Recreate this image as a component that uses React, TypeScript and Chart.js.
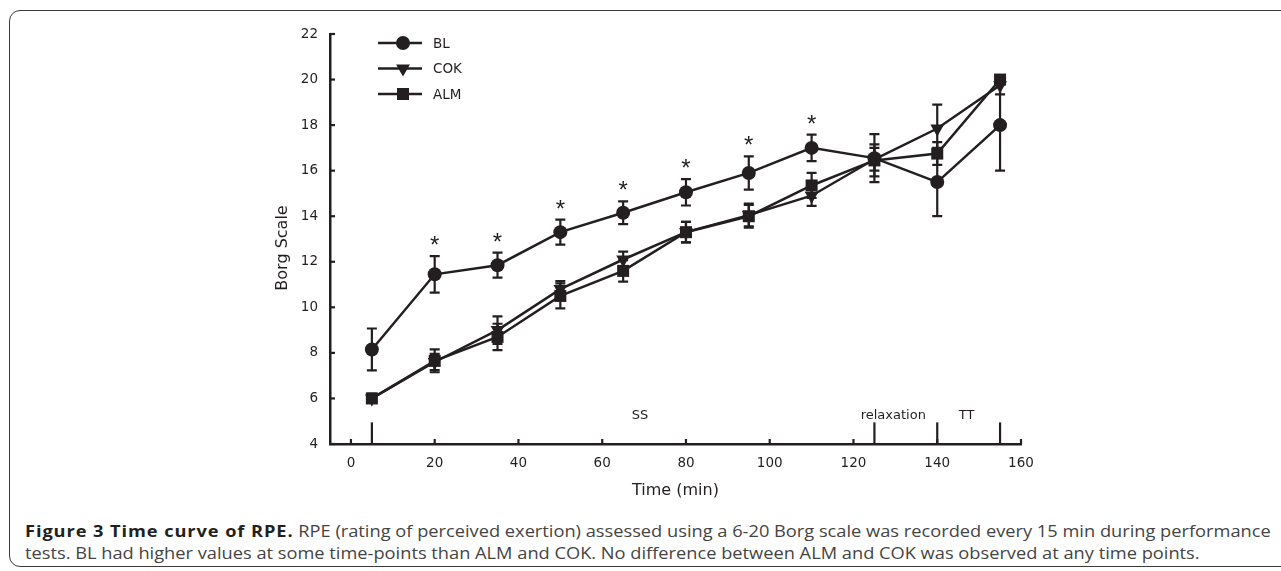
import React, { useEffect, useRef } from 'react';
import { Chart, registerables } from 'chart.js';

Chart.register(...registerables);

// ---- data ----
const times = [5, 20, 35, 50, 65, 80, 95, 110, 125, 140, 155];
const blMean = [8.15, 11.45, 11.85, 13.3, 14.15, 15.05, 15.9, 17.0, 16.55, 15.5, 18.0];
const blSd = [0.92, 0.8, 0.55, 0.55, 0.5, 0.58, 0.73, 0.58, 1.05, 1.5, 2.0];
const cokMean = [6.0, 7.6, 9.0, 10.8, 12.1, 13.3, 14.05, 14.9, 16.5, 17.85, 19.75];
const cokSd = [0.2, 0.36, 0.6, 0.35, 0.35, 0.45, 0.5, 0.45, 0.5, 1.05, 0.4];
const almMean = [6.0, 7.65, 8.7, 10.5, 11.6, 13.3, 14.0, 15.35, 16.45, 16.75, 20.0];
const almSd = [0.2, 0.5, 0.58, 0.55, 0.47, 0.45, 0.5, 0.55, 0.7, 0.5, 0.2];
const seriesNames = ['BL', 'COK', 'ALM'];
const sigTimes = [20, 35, 50, 65, 80, 95, 110];
const xTicks = [0, 20, 40, 60, 80, 100, 120, 140, 160];
const yTicks = [4, 6, 8, 10, 12, 14, 16, 18, 20, 22];
const phaseLines = [5, 125, 140, 155];
const phaseLabels = ['SS', 'relaxation', 'TT'];
const phaseLabelX = [69, 129.5, 147];

const INK = '#231f20';
const FONT = '"DejaVu Sans", "Liberation Sans", Arial, sans-serif';

const series = [
  { name: seriesNames[0], mean: blMean, sd: blSd, style: 'circle' },
  { name: seriesNames[1], mean: cokMean, sd: cokSd, style: 'tri' },
  { name: seriesNames[2], mean: almMean, sd: almSd, style: 'rect' },
];

function marker(ctx: CanvasRenderingContext2D, style: string, x: number, y: number) {
  ctx.beginPath();
  if (style === 'circle') {
    ctx.arc(x, y, 7, 0, Math.PI * 2);
  } else if (style === 'tri') {
    const r = 8;
    ctx.moveTo(x, y + r);
    ctx.lineTo(x - r * 0.866, y - r * 0.5);
    ctx.lineTo(x + r * 0.866, y - r * 0.5);
    ctx.closePath();
  } else {
    const s = 6;
    ctx.rect(x - s, y - s, 2 * s, 2 * s);
  }
  ctx.fill();
}

const overlay = {
  id: 'overlay',
  beforeDatasetsDraw(chart: any) {
    const { ctx, scales } = chart;
    const x = scales.x, y = scales.y;
    ctx.save();
    ctx.strokeStyle = INK;
    ctx.lineWidth = 2.2;
    series.forEach((s) => {
      s.mean.forEach((m, i) => {
        const px = x.getPixelForValue(times[i]);
        const top = y.getPixelForValue(m + s.sd[i]);
        const bot = y.getPixelForValue(m - s.sd[i]);
        ctx.beginPath();
        ctx.moveTo(px, top);
        ctx.lineTo(px, bot);
        ctx.moveTo(px - 5, top);
        ctx.lineTo(px + 5, top);
        ctx.moveTo(px - 5, bot);
        ctx.lineTo(px + 5, bot);
        ctx.stroke();
      });
    });
    ctx.restore();
  },
  afterDraw(chart: any) {
    const { ctx, scales, chartArea } = chart;
    const x = scales.x, y = scales.y;
    ctx.save();
    ctx.strokeStyle = INK;
    ctx.fillStyle = INK;
    ctx.lineWidth = 2.2;
    // inward tick marks
    xTicks.forEach((t) => {
      const px = x.getPixelForValue(t);
      ctx.beginPath();
      ctx.moveTo(px, chartArea.bottom);
      ctx.lineTo(px, chartArea.bottom - 5);
      ctx.stroke();
    });
    yTicks.forEach((t) => {
      const py = y.getPixelForValue(t);
      ctx.beginPath();
      ctx.moveTo(chartArea.left, py);
      ctx.lineTo(chartArea.left + 5, py);
      ctx.stroke();
    });
    // phase marker lines
    phaseLines.forEach((t) => {
      const px = x.getPixelForValue(t);
      ctx.beginPath();
      ctx.moveTo(px, y.getPixelForValue(4));
      ctx.lineTo(px, y.getPixelForValue(4.95));
      ctx.stroke();
    });
    ctx.font = '13px ' + FONT;
    ctx.textAlign = 'center';
    ctx.textBaseline = 'middle';
    phaseLabels.forEach((lab, i) => {
      ctx.fillText(lab, x.getPixelForValue(phaseLabelX[i]), y.getPixelForValue(5.25));
    });
    // significance asterisks
    ctx.font = '24px "Liberation Sans", Arial, sans-serif';
    ctx.textBaseline = 'alphabetic';
    sigTimes.forEach((t) => {
      const i = times.indexOf(t);
      const topPx = y.getPixelForValue(blMean[i] + blSd[i]);
      const cy = topPx - 17;
      ctx.fillText('*', x.getPixelForValue(t), cy + 24 * 0.58);
    });
    // legend
    ctx.font = '13.5px ' + FONT;
    ctx.textAlign = 'left';
    ctx.textBaseline = 'middle';
    series.forEach((s, i) => {
      const ly = chartArea.top + 9 + i * 25.5;
      const lx0 = chartArea.left + 48;
      ctx.lineWidth = 2.5;
      ctx.beginPath();
      ctx.moveTo(lx0, ly);
      ctx.lineTo(lx0 + 44, ly);
      ctx.stroke();
      marker(ctx, s.style, lx0 + 25, ly);
      ctx.fillText(s.name, lx0 + 55, ly + 1);
    });
    // y title
    ctx.font = '16px ' + FONT;
    ctx.textAlign = 'center';
    ctx.translate(283, (chartArea.top + chartArea.bottom) / 2 + 9);
    ctx.rotate(-Math.PI / 2);
    ctx.fillText('Borg Scale', 0, 0);
    ctx.restore();
  },
};

export default function App() {
  const ref = useRef<HTMLCanvasElement>(null);
  useEffect(() => {
    const mk = (s: typeof series[number]) => s.mean.map((v, i) => ({ x: times[i], y: v }));
    const chart = new Chart(ref.current!, {
      type: 'line',
      data: {
        datasets: series.map((s) => ({
          label: s.name,
          data: mk(s),
          borderColor: INK,
          backgroundColor: INK,
          borderWidth: 2.5,
          pointStyle: s.style === 'circle' ? 'circle' : s.style === 'tri' ? 'triangle' : 'rect',
          pointRotation: s.style === 'tri' ? 180 : 0,
          pointRadius: s.style === 'circle' ? 7 : s.style === 'tri' ? 8 : 8.5,
          pointBorderWidth: 0,
          pointBackgroundColor: INK,
          tension: 0,
          clip: false as any,
        })),
      },
      options: {
        animation: false,
        responsive: false,
        devicePixelRatio: 1,
        events: [],
        layout: { padding: { left: 270, top: 34, right: 260, bottom: 0 } },
        plugins: { legend: { display: false }, tooltip: { enabled: false } },
        scales: {
          x: {
            type: 'linear',
            min: -5,
            max: 160,
            afterFit: (sc: any) => { sc.height = 56; },
            grid: { display: false, drawTicks: false },
            border: { display: true, color: INK, width: 2.5 },
            ticks: {
              stepSize: 20,
              includeBounds: false,
              padding: 11,
              color: INK,
              font: { family: FONT, size: 13.5 },
              maxRotation: 0,
            },
            title: {
              display: true,
              text: 'Time (min)',
              color: INK,
              font: { family: FONT, size: 16 },
              padding: { top: 0, bottom: 0 },
            },
          },
          y: {
            type: 'linear',
            min: 4,
            max: 22,
            afterFit: (sc: any) => { sc.width = 60; },
            grid: { display: false, drawTicks: false },
            border: { display: true, color: INK, width: 2.5 },
            ticks: {
              stepSize: 2,
              padding: 12,
              color: INK,
              font: { family: FONT, size: 13.5 },
            },
          },
        },
      },
      plugins: [overlay],
    });
    return () => chart.destroy();
  }, []);

  const capStyle: React.CSSProperties = {
    position: 'absolute',
    left: 25,
    whiteSpace: 'nowrap',
    fontFamily: '"Open Sans", sans-serif',
    fontSize: 16,
    lineHeight: '22px',
    color: '#444',
    transform: 'scaleX(1.14)',
    transformOrigin: 'left center',
  };

  return (
    <div style={{ position: 'absolute', left: 0, top: 0, width: 1281, height: 571, background: '#fff', overflow: 'hidden' }}>
      <div
        style={{
          position: 'absolute',
          left: 9,
          top: 10,
          width: 1320,
          height: 555,
          border: '1.6px solid #3a3a3a',
          borderRadius: 11,
        }}
      />
      <canvas ref={ref} width={1281} height={500} style={{ position: 'absolute', left: 0, top: 0, width: 1281, height: 500 }} />
      <div style={{ ...capStyle, top: 519.5 }}>
        <span style={{ fontWeight: 700, color: INK, letterSpacing: 0.8 }}>Figure 3 Time curve of RPE.</span> RPE (rating of perceived exertion) assessed using a 6-20 Borg scale was recorded every 15 min during performance
      </div>
      <div style={{ ...capStyle, top: 541.5 }}>
        tests. BL had higher values at some time-points than ALM and COK. No difference between ALM and COK was observed at any time points.
      </div>
    </div>
  );
}
